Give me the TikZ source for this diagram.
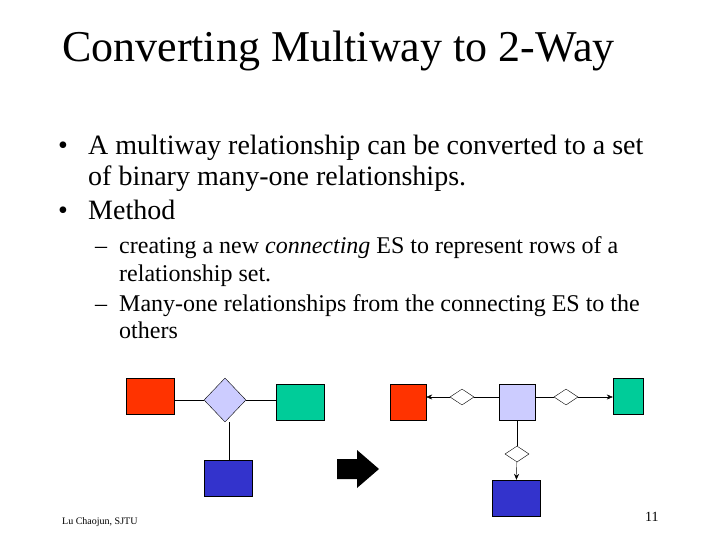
\documentclass[tikz,border=0pt]{standalone}
\usepackage{fontspec}
\setmainfont{Liberation Serif}
\usetikzlibrary{shapes.geometric,shapes.arrows,arrows.meta}
\begin{document}
\begin{tikzpicture}[x=1pt,y=-1pt,
  txt/.style={anchor=base west,inner sep=0},
  big/.style={font=\fontsize{28}{30}\selectfont},
  med/.style={font=\fontsize{24}{26}\selectfont},
  lnk/.style={thin},
  arr/.style={thin,-{Stealth[length=6pt,width=5pt]}},
  dia/.style={diamond,draw,thin,fill=white,inner sep=0,minimum width=24,minimum height=16}]
\useasboundingbox (0,0) rectangle (720,540);
\node[txt,font=\fontsize{44}{46}\selectfont] (title) at (62,62) {Converting Multiway to 2-Way};
\node[txt,big] (b1) at (58,155) {•};
\node[txt,big] (t1) at (88,155) {A multiway relationship can be converted to a set};
\node[txt,big] (t1b) at (88,186) {of binary many-one relationships.};
\node[txt,big] (b2) at (58,220) {•};
\node[txt,big] (t2) at (88,220) {Method};
\node[txt,med] (d1) at (95,254) {–};
\node[txt,med] (s1) at (119,254) {creating a new \emph{connecting} ES to represent rows of a};
\node[txt,med] (s1b) at (119,281) {relationship set.};
\node[txt,med] (d2) at (95,311) {–};
\node[txt,med] (s2) at (119,311) {Many-one relationships from the connecting ES to the};
\node[txt,med] (s2b) at (119,338) {others};
\node[txt,font=\fontsize{10}{11}\selectfont] (foot) at (62,524) {Lu Chaojun, SJTU};
\node[txt,font=\fontsize{14}{15}\selectfont] (pg) at (645,521) {11};
% left diagram
\node[draw,fill={rgb,255:red,255;green,51;blue,0},minimum width=48,minimum height=36,inner sep=0] (r1) at (150,396) {};
\node[diamond,draw,fill={rgb,255:red,204;green,204;blue,255},inner sep=0,minimum width=42,minimum height=44] (d) at (225,400) {};
\node[draw,fill={rgb,255:red,0;green,204;blue,153},minimum width=48,minimum height=36,inner sep=0] (g1) at (300,402) {};
\node[draw,fill={rgb,255:red,51;green,51;blue,204},minimum width=48,minimum height=36,inner sep=0] (bl1) at (228,478) {};
\draw[lnk] (r1.east |- d.west) -- (d.west);
\draw[lnk] (d.east) -- (g1.west |- d.east);
\draw[lnk] (d.south) ++(4,0) coordinate (dd) (dd) -- (dd |- bl1.north);
% arrow
\fill (337,459) -- (357,459) -- (357,450) -- (379,469) -- (357,488) -- (357,479) -- (337,479) -- cycle;
% right diagram
\node[draw,fill={rgb,255:red,255;green,51;blue,0},minimum width=36,minimum height=36,inner sep=0] (r2) at (408,402) {};
\node[draw,fill={rgb,255:red,204;green,204;blue,255},minimum width=36,minimum height=36,inner sep=0] (c) at (517,402) {};
\node[draw,fill={rgb,255:red,0;green,204;blue,153},minimum width=30,minimum height=36,inner sep=0] (g2) at (628,396) {};
\node[draw,fill={rgb,255:red,51;green,51;blue,204},minimum width=48,minimum height=36,inner sep=0] (bl2) at (516,498) {};
\node[dia] (m1) at (462,397) {};
\node[dia] (m2) at (566,397) {};
\node[dia] (m3) at (517,454) {};
\draw[lnk] (c.west |- m1) -- (m1);
\draw[arr] (m1) -- (r2.east |- m1);
\draw[lnk] (c.east |- m2) -- (m2);
\draw[arr] (m2) -- (g2.west |- m2);
\draw[lnk] (c) -- (m3);
\draw[arr] (m3) -- (bl2);
\end{tikzpicture}
\end{document}
